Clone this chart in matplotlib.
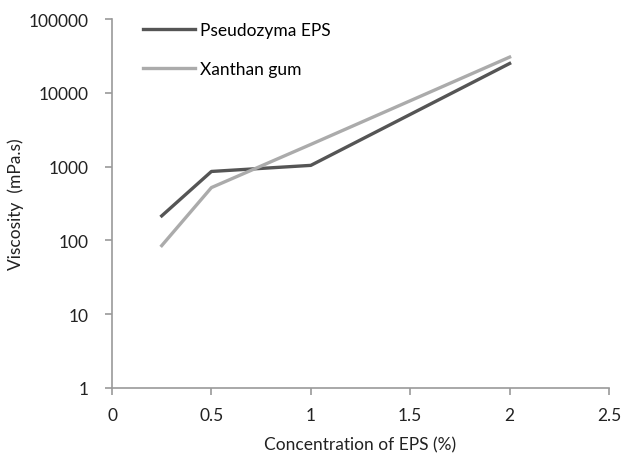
import matplotlib
matplotlib.use("Agg")
import matplotlib.pyplot as plt

conc = [0.25, 0.5, 1, 2]
pseudozyma = [215, 860, 1040, 25000]
xanthan = [85, 520, 2000, 30500]
xticks = [0, 0.5, 1, 1.5, 2, 2.5]
yticks = [1, 10, 100, 1000, 10000, 100000]

plt.rcParams['font.family'] = ['Lato', 'DejaVu Sans']
fig = plt.figure(figsize=(6.42, 4.56), dpi=100)
ax = fig.add_axes([0.1745, 0.147, 0.7741, 0.809])
ax.plot(conc, pseudozyma, color='#555555', lw=2.4, label='Pseudozyma EPS')
ax.plot(conc, xanthan, color='#ababab', lw=2.4, label='Xanthan gum')
ax.set_yscale('log')
ax.set_xlim(0, 2.5)
ax.set_ylim(1, 100000)
ax.set_xticks(xticks)
ax.set_xticklabels(['0', '0.5', '1', '1.5', '2', '2.5'])
ax.set_yticks(yticks)
ax.set_yticklabels([str(v) for v in yticks])
ax.minorticks_off()
for s in ['top', 'right']:
    ax.spines[s].set_visible(False)
for s in ['left', 'bottom']:
    ax.spines[s].set_color('#9a9a9a')
    ax.spines[s].set_linewidth(1.2)
ax.tick_params(axis='both', colors='#9a9a9a', labelcolor='#222222', labelsize=12.5, length=5, width=1.2, direction='out')
ax.tick_params(axis='x', pad=9)
ax.tick_params(axis='y', pad=12)
ax.set_xlabel('Concentration of EPS (%)', fontsize=12.5, color='#222222', labelpad=9)
ax.set_ylabel('Viscosity  (mPa.s)', fontsize=12.5, color='#222222', labelpad=3)
ax.legend(loc='upper left', bbox_to_anchor=(0.03, 1.035), frameon=False, fontsize=12.5,
          handlelength=3.0, handletextpad=0.3, labelspacing=1.35)
fig.savefig('out.png', dpi=100)
